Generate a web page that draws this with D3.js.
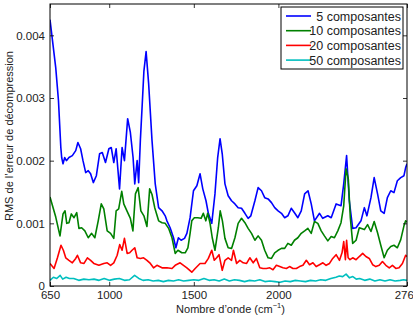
<!DOCTYPE html>
<html>
<head>
<meta charset="utf-8">
<script src="https://cdn.jsdelivr.net/npm/d3@7"></script>
<style>
  body { margin: 0; background: #fff; }
  svg { font-family: "Liberation Sans", Arial, sans-serif; }
</style>
</head>
<body>
<svg width="413" height="315"></svg>
<script>
// RMS of decompression error vs wavenumber, for 4 numbers of components
var xTicks = [650, 1000, 1500, 2000, 2760];
var yTicks = [0, 0.001, 0.002, 0.003, 0.004];
var yTickLabels = ['0', '0.001', '0.002', '0.003', '0.004'];
var seriesNames = ['5 composantes', '10 composantes', '20 composantes', '50 composantes'];
var seriesColors = ['#0000ff', '#008000', '#ff0000', '#00bfbf'];

var comp5 = [
  [650,0.00425],[684,0.00348],[700,0.00296],[714,0.00221],[719,0.00205],[727,0.00195],[737,0.00205],
  [747,0.00200],[762,0.00205],[782,0.00208],[802,0.00216],[815,0.00229],[831,0.00219],[845,0.00200],
  [861,0.00181],[876,0.00184],[890,0.00179],[906,0.00165],[924,0.00176],[943,0.00211],[959,0.00213],
  [978,0.00197],[998,0.00219],[1012,0.00221],[1027,0.00197],[1041,0.00219],[1061,0.00155],[1076,0.00221],
  [1090,0.00200],[1109,0.00267],[1125,0.00245],[1141,0.00205],[1151,0.00163],[1165,0.00200],[1174,0.00165],
  [1184,0.00232],[1194,0.00284],[1205,0.00343],[1218,0.00374],[1233,0.00323],[1253,0.00232],[1272,0.00163],
  [1292,0.00125],[1312,0.00120],[1331,0.00112],[1341,0.00104],[1360,0.00093],[1380,0.00077],[1394,0.00061],
  [1409,0.00077],[1425,0.00073],[1445,0.00076],[1459,0.00084],[1478,0.00109],[1498,0.00152],[1518,0.00160],
  [1537,0.00179],[1553,0.00155],[1572,0.00136],[1586,0.00116],[1606,0.00100],[1625,0.00147],[1641,0.00205],
  [1655,0.00235],[1668,0.00211],[1684,0.00163],[1703,0.00144],[1723,0.00136],[1743,0.00131],[1762,0.00125],
  [1782,0.00124],[1802,0.00116],[1821,0.00108],[1837,0.00112],[1861,0.00136],[1880,0.00157],[1900,0.00152],
  [1919,0.00141],[1939,0.00139],[1959,0.00133],[1978,0.00125],[1998,0.00120],[2018,0.00116],[2037,0.00109],
  [2056,0.00112],[2076,0.00124],[2095,0.00117],[2115,0.00109],[2135,0.00120],[2155,0.00147],[2175,0.00152],
  [2194,0.00131],[2213,0.00104],[2243,0.00116],[2262,0.00108],[2292,0.00112],[2312,0.00109],[2341,0.00131],
  [2370,0.00128],[2386,0.00163],[2403,0.00208],[2419,0.00136],[2439,0.00092],[2459,0.00093],[2488,0.00104],
  [2508,0.00125],[2523,0.00112],[2547,0.00141],[2566,0.00173],[2586,0.00147],[2605,0.00120],[2625,0.00116],
  [2644,0.00141],[2664,0.00152],[2683,0.00149],[2703,0.00168],[2723,0.00173],[2742,0.00176],[2752,0.00189],
  [2760,0.00195]
];

var comp10 = [
  [650,0.00142],[684,0.00110],[709,0.00080],[727,0.00115],[739,0.00120],[749,0.00100],[762,0.00101],
  [776,0.00115],[792,0.00109],[808,0.00117],[821,0.00092],[837,0.00093],[856,0.00088],[876,0.00077],
  [896,0.00084],[915,0.00077],[935,0.00104],[953,0.00131],[968,0.00123],[988,0.00088],[1008,0.00084],
  [1027,0.00076],[1041,0.00120],[1056,0.00123],[1074,0.00151],[1086,0.00131],[1106,0.00119],[1125,0.00108],
  [1140,0.00088],[1155,0.00147],[1171,0.00157],[1187,0.00120],[1205,0.00112],[1223,0.00095],[1239,0.00155],
  [1253,0.00146],[1269,0.00125],[1292,0.00104],[1312,0.00101],[1331,0.00100],[1351,0.00092],[1371,0.00077],
  [1390,0.00052],[1406,0.00057],[1429,0.00053],[1449,0.00053],[1465,0.00061],[1478,0.00084],[1488,0.00104],
  [1503,0.00109],[1523,0.00109],[1543,0.00108],[1556,0.00116],[1571,0.00104],[1582,0.00116],[1596,0.00100],
  [1609,0.00077],[1625,0.00057],[1645,0.00093],[1656,0.00120],[1669,0.00104],[1684,0.00076],[1703,0.00061],
  [1723,0.00060],[1743,0.00077],[1762,0.00100],[1782,0.00108],[1802,0.00101],[1821,0.00092],[1841,0.00084],
  [1861,0.00073],[1880,0.00080],[1900,0.00073],[1919,0.00057],[1939,0.00045],[1959,0.00044],[1978,0.00053],
  [1998,0.00057],[2018,0.00060],[2037,0.00060],[2056,0.00068],[2076,0.00065],[2095,0.00073],[2115,0.00077],
  [2135,0.00084],[2155,0.00088],[2174,0.00092],[2194,0.00084],[2213,0.00103],[2233,0.00100],[2253,0.00088],
  [2272,0.00080],[2292,0.00072],[2312,0.00079],[2331,0.00077],[2351,0.00088],[2370,0.00101],[2386,0.00128],
  [2400,0.00187],[2413,0.00171],[2425,0.00109],[2439,0.00068],[2459,0.00073],[2478,0.00093],[2508,0.00090],
  [2527,0.00098],[2547,0.00087],[2566,0.00103],[2586,0.00085],[2605,0.00065],[2625,0.00045],[2644,0.00057],
  [2664,0.00063],[2683,0.00065],[2703,0.00061],[2723,0.00074],[2742,0.00096],[2752,0.00104],[2760,0.00102]
];

var comp20 = [
  [650,0.00036],[674,0.00028],[694,0.00045],[715,0.00065],[729,0.00057],[743,0.00045],[762,0.00041],
  [782,0.00037],[802,0.00044],[812,0.00049],[831,0.00037],[851,0.00036],[871,0.00045],[890,0.00041],
  [909,0.00036],[939,0.00033],[968,0.00036],[988,0.00037],[1008,0.00033],[1027,0.00037],[1047,0.00049],
  [1062,0.00066],[1076,0.00057],[1090,0.00076],[1106,0.00052],[1121,0.00053],[1135,0.00057],[1151,0.00061],
  [1165,0.00045],[1184,0.00044],[1203,0.00045],[1223,0.00041],[1243,0.00036],[1262,0.00029],[1282,0.00033],
  [1312,0.00029],[1341,0.00029],[1371,0.00028],[1390,0.00033],[1419,0.00037],[1439,0.00033],[1459,0.00029],
  [1488,0.00022],[1508,0.00028],[1537,0.00036],[1566,0.00036],[1586,0.00044],[1606,0.00057],[1621,0.00041],
  [1635,0.00045],[1649,0.00050],[1668,0.00025],[1684,0.00041],[1703,0.00045],[1723,0.00041],[1734,0.00057],
  [1753,0.00036],[1772,0.00041],[1792,0.00037],[1812,0.00036],[1831,0.00045],[1851,0.00037],[1870,0.00044],
  [1890,0.00029],[1909,0.00028],[1929,0.00028],[1949,0.00029],[1968,0.00026],[1988,0.00033],[2008,0.00031],
  [2027,0.00029],[2047,0.00028],[2066,0.00031],[2086,0.00028],[2106,0.00028],[2125,0.00031],[2145,0.00033],
  [2165,0.00041],[2184,0.00034],[2204,0.00037],[2223,0.00031],[2243,0.00034],[2263,0.00037],[2282,0.00033],
  [2302,0.00036],[2321,0.00044],[2341,0.00050],[2361,0.00041],[2376,0.00053],[2386,0.00071],[2396,0.00042],
  [2403,0.00073],[2412,0.00045],[2423,0.00042],[2439,0.00045],[2459,0.00042],[2478,0.00047],[2498,0.00052],
  [2517,0.00047],[2537,0.00044],[2557,0.00034],[2576,0.00031],[2596,0.00033],[2615,0.00039],[2635,0.00033],
  [2655,0.00029],[2674,0.00033],[2694,0.00028],[2713,0.00029],[2733,0.00036],[2752,0.00049],[2760,0.00047]
];

var comp50 = [
  [650,0.00009],[670,0.00014],[690,0.00012],[710,0.00017],[725,0.00011],[745,0.00014],[765,0.00012],
  [790,0.00012],[820,0.00009],[850,0.00011],[880,0.00010],[910,0.00011],[940,0.00009],[970,0.00012],
  [1000,0.00009],[1030,0.00011],[1060,0.00012],[1090,0.00009],[1120,0.00010],[1150,0.00017],[1175,0.00012],
  [1200,0.00009],[1230,0.00010],[1260,0.00008],[1290,0.00009],[1320,0.00007],[1350,0.00009],[1380,0.00008],
  [1410,0.00010],[1440,0.00008],[1470,0.00009],[1500,0.00010],[1530,0.00009],[1560,0.00012],[1590,0.00009],
  [1620,0.00010],[1650,0.00008],[1680,0.00011],[1710,0.00008],[1740,0.00010],[1770,0.00009],[1800,0.00007],
  [1830,0.00009],[1860,0.00008],[1890,0.00010],[1920,0.00007],[1950,0.00008],[1980,0.00007],[2010,0.00006],
  [2040,0.00008],[2070,0.00007],[2100,0.00009],[2130,0.00008],[2160,0.00007],[2190,0.00009],[2220,0.00008],
  [2250,0.00010],[2280,0.00009],[2310,0.00012],[2340,0.00014],[2360,0.00016],[2380,0.00015],[2400,0.00019],
  [2420,0.00013],[2440,0.00015],[2460,0.00011],[2480,0.00012],[2510,0.00009],[2540,0.00011],[2570,0.00008],
  [2600,0.00010],[2630,0.00008],[2660,0.00010],[2690,0.00008],[2720,0.00009],[2740,0.00010],[2760,0.00009]
];

var allSeries = [comp5, comp10, comp20, comp50];

// plot box (don't use "top" as a global name: it's window.top)
var plotL = 50, plotR = 407, plotT = 4, plotB = 286;

var svg = d3.select('svg');

var x = d3.scaleLinear().domain([650, 2760]).range([plotL, plotR]);
var y = d3.scaleLinear().domain([0, 0.0045]).range([plotB, plotT]);

svg.append('clipPath').attr('id', 'plotclip')
  .append('rect')
  .attr('x', plotL).attr('y', plotT)
  .attr('width', plotR - plotL).attr('height', plotB - plotT);

var line = d3.line()
  .x(function(d){ return x(d[0]); })
  .y(function(d){ return y(d[1]); });

svg.append('g').attr('clip-path', 'url(#plotclip)')
  .selectAll('path').data(allSeries).enter().append('path')
  .attr('d', line)
  .attr('fill', 'none')
  .attr('stroke', function(d, i){ return seriesColors[i]; })
  .attr('stroke-width', 1.6)
  .attr('stroke-linejoin', 'round');

// axes, matlab style: ticks inward on all four sides
var fmtY = function(d){ return yTickLabels[yTicks.indexOf(d)]; };

var gx = svg.append('g').attr('transform', 'translate(0,' + plotB + ')')
  .call(d3.axisBottom(x).tickValues(xTicks).tickSizeInner(-4).tickSizeOuter(0).tickPadding(4.5).tickFormat(d3.format('d')));
var gxTop = svg.append('g').attr('transform', 'translate(0,' + plotT + ')')
  .call(d3.axisTop(x).tickValues(xTicks).tickSizeInner(-4).tickSizeOuter(0).tickFormat(''));
var gy = svg.append('g').attr('transform', 'translate(' + plotL + ',0)')
  .call(d3.axisLeft(y).tickValues(yTicks).tickSizeInner(-4).tickSizeOuter(0).tickPadding(5).tickFormat(fmtY));
var gyRight = svg.append('g').attr('transform', 'translate(' + plotR + ',0)')
  .call(d3.axisRight(y).tickValues(yTicks).tickSizeInner(-4).tickSizeOuter(0).tickFormat(''));

[gx, gxTop, gy, gyRight].forEach(function(g){
  g.select('.domain').remove();
  g.selectAll('line').attr('stroke', '#000').attr('stroke-width', 0.8);
  g.selectAll('text').attr('font-size', 11.5).attr('fill', '#222')
    .attr('font-family', '"Liberation Sans", Arial, sans-serif');
});

svg.append('rect')
  .attr('x', plotL).attr('y', plotT)
  .attr('width', plotR - plotL).attr('height', plotB - plotT)
  .attr('fill', 'none').attr('stroke', '#000').attr('stroke-width', 1);

// axis titles
var xt = svg.append('text')
  .attr('x', (plotL + plotR) / 2 + 2).attr('y', 312.5)
  .attr('text-anchor', 'middle').attr('font-size', 11).attr('fill', '#222');
xt.append('tspan').text('Nombre d\u2019onde (cm');
xt.append('tspan').attr('font-size', 7.5).attr('dy', -5).text('\u22121');
xt.append('tspan').attr('dy', 5).text(')');

svg.append('text')
  .attr('transform', 'translate(13,' + 136 + ') rotate(-90)')
  .attr('text-anchor', 'middle').attr('font-size', 11).attr('fill', '#222')
  .text('RMS de l\u2019erreur de d\u00e9compression');

// legend
var lg = svg.append('g');
lg.append('rect')
  .attr('x', 281).attr('y', 7).attr('width', 122).attr('height', 62)
  .attr('fill', '#fff').attr('stroke', '#000').attr('stroke-width', 1);

var items = lg.selectAll('g.item').data(seriesNames).enter().append('g')
  .attr('transform', function(d, i){ return 'translate(0,' + (16 + i * 14.7) + ')'; });
items.append('line')
  .attr('x1', 286).attr('x2', 311).attr('y1', 0).attr('y2', 0)
  .attr('stroke', function(d, i){ return seriesColors[i]; })
  .attr('stroke-width', 1.6);
items.append('text')
  .attr('x', 401).attr('y', 4.5)
  .attr('text-anchor', 'end').attr('font-size', 12.5).attr('fill', '#222')
  .text(function(d){ return d; });
</script>
</body>
</html>
